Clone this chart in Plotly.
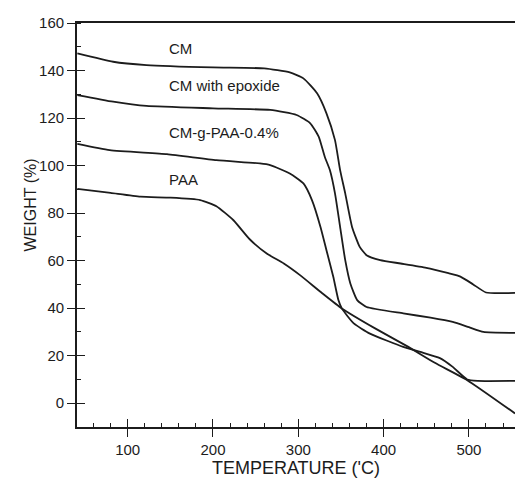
import plotly.graph_objects as go

# Temperature (°C) / weight (%)
cm_x = [41, 83, 122, 200, 260, 290, 306, 322, 333, 343, 349, 355, 363, 372, 380, 396, 420, 450, 476, 490, 505, 520, 554]
cm_y = [147.2, 143.7, 142.3, 141.3, 140.9, 139.2, 136.7, 130.4, 122.0, 110.7, 98.1, 88.3, 74.2, 65.8, 62.3, 60.2, 58.8, 57.0, 54.7, 53.3, 50.0, 46.6, 46.4]

epo_x = [41, 83, 122, 200, 267, 298, 314, 324, 331, 337, 343, 349, 355, 361, 369, 380, 423, 455, 481, 500, 517, 554]
epo_y = [129.7, 126.9, 125.1, 124.1, 123.4, 121.3, 117.8, 112.1, 103.7, 98.1, 88.3, 74.2, 60.2, 50.4, 43.4, 40.5, 37.8, 36.0, 34.2, 32.0, 30.0, 29.6]

gpaa_x = [41, 79, 146, 204, 255, 267, 290, 306, 316, 326, 333, 341, 347, 351, 365, 384, 423, 443, 466, 481, 498, 510, 554]
gpaa_y = [109.1, 106.5, 104.8, 102.3, 100.9, 100.2, 96.7, 92.5, 85.5, 74.2, 64.4, 53.2, 43.4, 39.9, 33.6, 29.3, 23.7, 21.6, 19.0, 15.3, 10.0, 9.4, 9.4]

paa_x = [41, 80, 115, 150, 185, 204, 224, 243, 263, 283, 302, 328, 351, 390, 429, 460, 498, 554]
paa_y = [90.2, 88.5, 86.9, 86.5, 85.5, 82.9, 77.0, 69.0, 63.0, 58.8, 53.9, 46.3, 39.9, 31.5, 23.7, 17.0, 9.7, -4.3]

label_text = ["CM", "CM with epoxide", "CM-g-PAA-0.4%", "PAA"]
label_x = [146, 146, 146, 146]
label_y = [149.1, 133.5, 113.9, 94.3]

x_range = [40.6, 554]
y_range = [-10, 160]

FONT = "Arial, Liberation Sans, sans-serif"
INK = "#1c1c1c"

fig = go.Figure()
for xs, ys in [(cm_x, cm_y), (epo_x, epo_y), (gpaa_x, gpaa_y), (paa_x, paa_y)]:
    fig.add_trace(go.Scatter(x=xs, y=ys, mode="lines",
                             line=dict(color=INK, width=1.8, shape="spline", smoothing=0.5),
                             showlegend=False, hoverinfo="skip"))

# invisible trace on overlay axes (for the inner half of major ticks)
fig.add_trace(go.Scatter(x=paa_x, y=paa_y, xaxis="x2", yaxis="y2", mode="lines",
                         line=dict(width=0), opacity=0, showlegend=False, hoverinfo="skip"))

for t, xx, yy in zip(label_text, label_x, label_y):
    fig.add_annotation(x=xx, y=yy, xref="x", yref="y", text=t, showarrow=False,
                       xanchor="left", yanchor="middle",
                       font=dict(family=FONT, size=15, color=INK))

plot_h = 485 - 23 - 58
plot_w = 515 - 77
fig.add_annotation(x=(20 - 77) / plot_w, y=(485 - 58 - 205) / plot_h,
                   xref="paper", yref="paper", text="WEIGHT (%)",
                   showarrow=False, textangle=-90, font=dict(family=FONT, size=16, color=INK))

common_font = dict(family=FONT, size=15, color=INK)

fig.update_layout(
    width=515, height=485,
    margin=dict(l=77, r=0, t=23, b=58),
    paper_bgcolor="white", plot_bgcolor="white",
    xaxis=dict(range=x_range, showgrid=False, zeroline=False,
               showline=True, linecolor=INK, linewidth=1.7, mirror=True,
               tick0=0, dtick=100, ticks="outside", ticklen=8, tickwidth=1.4, tickcolor=INK,
               minor=dict(tick0=0, dtick=20, ticks="inside", ticklen=4, tickwidth=1.1, tickcolor=INK),
               tickfont=common_font,
               title=dict(text="TEMPERATURE ('C)", font=dict(family=FONT, size=18, color=INK), standoff=5)),
    yaxis=dict(range=y_range, showgrid=False, zeroline=False,
               showline=True, linecolor=INK, linewidth=1.7,
               tick0=0, dtick=20, ticks="outside", ticklen=8, tickwidth=1.4, tickcolor=INK,
               minor=dict(tick0=0, dtick=10, ticks="inside", ticklen=4, tickwidth=1.1, tickcolor=INK),
               tickfont=common_font),
    xaxis2=dict(range=x_range, overlaying="x", anchor="y", side="bottom", showgrid=False,
                zeroline=False, showline=False, showticklabels=False,
                tick0=0, dtick=100, ticks="inside", ticklen=8, tickwidth=1.4, tickcolor=INK),
    yaxis2=dict(range=y_range, overlaying="y", anchor="x", side="left", showgrid=False,
                zeroline=False, showline=False, showticklabels=False,
                tick0=0, dtick=20, ticks="inside", ticklen=8, tickwidth=1.4, tickcolor=INK),
)

fig.write_html("out.html")
